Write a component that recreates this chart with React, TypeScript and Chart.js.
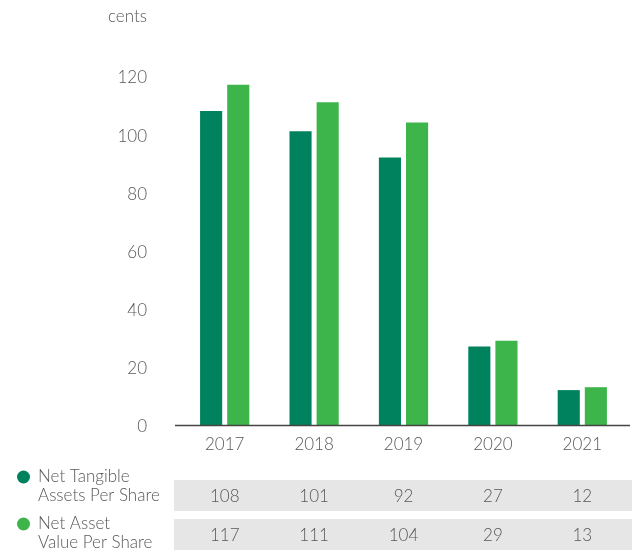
import React, { useEffect, useRef } from "react";
import { Chart, registerables } from "chart.js";

Chart.register(...registerables);

const years = ["2017", "2018", "2019", "2020", "2021"];
const netTangible = [108, 101, 92, 27, 12];
const netAssetValue = [117, 111, 104, 29, 13];
const seriesNames = [["Net Tangible", "Assets Per Share"], ["Net Asset", "Value Per Share"]];
const yTicks = [0, 20, 40, 60, 80, 100, 120];
const unitLabel = "cents";

const DARK = "#00825f";
const LIGHT = "#3db54a";
const TEXT = "#585858";
const FONT = "Lato, 'Open Sans', sans-serif";
const FS = 17;

export default function App() {
  const ref = useRef<HTMLCanvasElement | null>(null);

  useEffect(() => {
    if (!ref.current) return;
    const tablePlugin = {
      id: "tablePlugin",
      afterDraw(chart: any) {
        const ctx = chart.ctx;
        const xs = chart.scales.x;
        const area = chart.chartArea;
        ctx.save();
        // x axis line
        ctx.strokeStyle = "#444";
        ctx.lineWidth = 1.5;
        ctx.beginPath();
        ctx.moveTo(175, area.bottom + 0.5);
        ctx.lineTo(630, area.bottom + 0.5);
        ctx.stroke();
        // unit label
        ctx.fillStyle = TEXT;
        ctx.font = `300 ${FS}px ${FONT}`;
        ctx.textAlign = "right";
        ctx.textBaseline = "middle";
        ctx.fillText(unitLabel, 147, 17);
        // table
        const rows = [netTangible, netAssetValue];
        const colors = [DARK, LIGHT];
        const rowTop = [480, 519];
        const rowH = 31;
        rows.forEach((vals, r) => {
          ctx.fillStyle = "#e6e6e6";
          ctx.fillRect(174, rowTop[r], 632 - 174, rowH);
          ctx.fillStyle = TEXT;
          ctx.font = `300 ${FS}px ${FONT}`;
          ctx.textAlign = "center";
          ctx.textBaseline = "middle";
          vals.forEach((v, i) => {
            ctx.fillText(String(v), xs.getPixelForValue(i), rowTop[r] + rowH / 2 + 1);
          });
          // legend dot
          const dotY = r === 0 ? 477 : 524;
          ctx.fillStyle = colors[r];
          ctx.beginPath();
          ctx.arc(23.5, dotY, 6.5, 0, Math.PI * 2);
          ctx.fill();
          ctx.fillStyle = TEXT;
          ctx.textAlign = "left";
          ctx.fillText(seriesNames[r][0], 38, dotY);
          ctx.fillText(seriesNames[r][1], 38, dotY + 19);
        });
        ctx.restore();
      },
    };

    const chart = new Chart(ref.current, {
      type: "bar",
      data: {
        labels: years,
        datasets: [
          { label: seriesNames[0].join(" "), data: netTangible, backgroundColor: DARK },
          { label: seriesNames[1].join(" "), data: netAssetValue, backgroundColor: LIGHT },
        ],
      },
      options: {
        animation: false,
        responsive: false,
        maintainAspectRatio: false,
        layout: { padding: { top: 76, right: 5, left: 0, bottom: 0 } },
        datasets: { bar: { categoryPercentage: 0.607, barPercentage: 0.815 } },
        plugins: { legend: { display: false }, tooltip: { enabled: false } },
        scales: {
          x: {
            grid: { display: false, drawTicks: false },
            border: { display: false },
            ticks: { color: TEXT, font: { family: FONT, size: FS, weight: "300" as any }, padding: 9 },
            afterFit: (s: any) => { s.height = 556 - 425; },
          },
          y: {
            min: 0,
            max: 120,
            afterBuildTicks: (s: any) => { s.ticks = yTicks.map((v) => ({ value: v })); },
            grid: { display: false, drawTicks: false },
            border: { display: false },
            ticks: { color: TEXT, font: { family: FONT, size: FS, weight: "300" as any }, padding: 33, labelOffset: 2 },
            afterFit: (s: any) => { s.width = 180; },
          },
        },
      },
      plugins: [tablePlugin],
    });
    return () => chart.destroy();
  }, []);

  return (
    <div style={{ position: "fixed", left: 0, top: 0, width: 632, height: 556, background: "#fff" }}>
      <canvas ref={ref} width={632} height={556} style={{ width: 632, height: 556 }} />
    </div>
  );
}
